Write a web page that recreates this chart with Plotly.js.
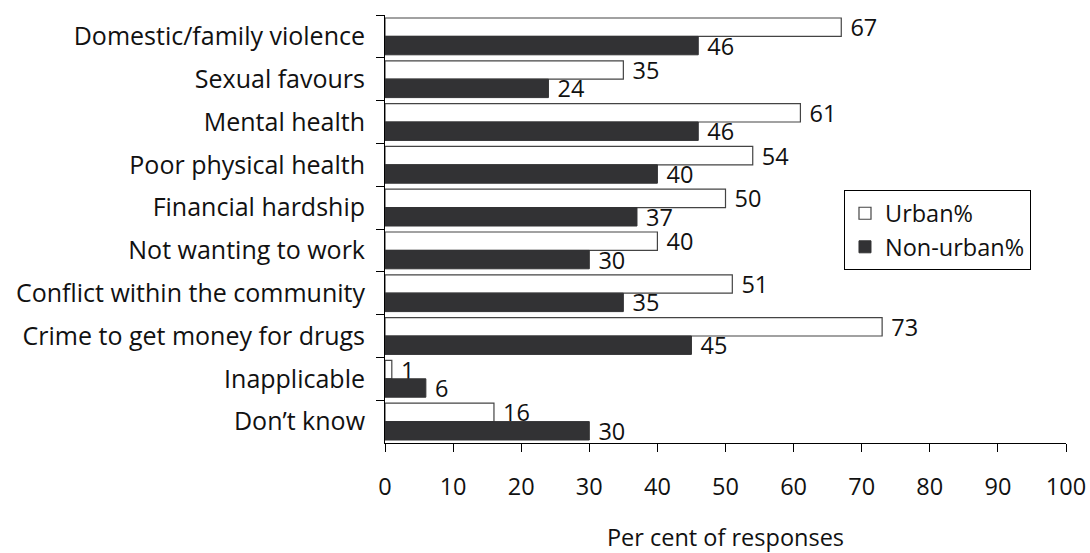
<!DOCTYPE html>
<html>
<head>
<meta charset="utf-8">
<script src="https://cdn.plot.ly/plotly-3.0.1.min.js"></script>
<style>html,body{margin:0;padding:0;background:#fff;}#chart{width:1090px;height:553px;}</style>
</head>
<body>
<div id="chart"></div>
<script>
const categories = [
  "Domestic/family violence",
  "Sexual favours",
  "Mental health",
  "Poor physical health",
  "Financial hardship",
  "Not wanting to work",
  "Conflict within the community",
  "Crime to get money for drugs",
  "Inapplicable",
  "Don\u2019t know"
];
const urban = [67, 35, 61, 54, 50, 40, 51, 73, 1, 16];
const nonUrban = [46, 24, 46, 40, 37, 30, 35, 45, 6, 30];
const xTicks = [0, 10, 20, 30, 40, 50, 60, 70, 80, 90, 100];

const FONT = "'Open Sans', Lato, sans-serif";
const FS = 23.5;
const FSY = 25;

const traces = [
  {
    type: "bar", orientation: "h", name: "Urban%",
    y: categories, x: urban,
    texttemplate: " %{x}", textposition: "outside",
    textfont: {family: FONT, size: FS, color: "#111"},
    constraintext: "none", cliponaxis: false,
    marker: {color: "#ffffff", line: {color: "#444", width: 1.2}},
    hoverinfo: "x+y"
  },
  {
    type: "bar", orientation: "h", name: "Non-urban%",
    y: categories, x: nonUrban,
    texttemplate: " %{x}", textposition: "outside",
    textfont: {family: FONT, size: FS, color: "#111"},
    constraintext: "none", cliponaxis: false,
    marker: {color: "#323234", line: {color: "#323234", width: 1}},
    hoverinfo: "x+y"
  }
];

const layout = {
  width: 1090, height: 553,
  margin: {l: 385, r: 24, t: 15, b: 110},
  paper_bgcolor: "#fff", plot_bgcolor: "#fff",
  font: {family: FONT, size: FS, color: "#111"},
  barmode: "group",
  bargap: 0.14, bargroupgap: 0,
  showlegend: true,
  legend: {
    x: 0.674, y: 0.59, xanchor: "left", yanchor: "top",
    bordercolor: "#000", borderwidth: 1, bgcolor: "#fff",
    font: {family: FONT, size: FS, color: "#111"},
    traceorder: "normal", tracegroupgap: 0
  },
  xaxis: {
    range: [0, 100], tickvals: xTicks, ticktext: xTicks.map(String),
    showgrid: false, zeroline: false, showline: true, linecolor: "#000", linewidth: 1,
    ticks: "outside", ticklen: 8, tickcolor: "#000",
    ticklabelstandoff: 15,
    tickfont: {family: FONT, size: FS, color: "#111"},
    title: {text: "Per cent of responses", font: {family: FONT, size: FS, color: "#111"}, standoff: 30},
    fixedrange: true
  },
  yaxis: {
    type: "category", autorange: "reversed",
    showgrid: false, zeroline: false, showline: true, linecolor: "#000", linewidth: 1,
    ticks: "outside", ticklen: 8, tickcolor: "#000", tickson: "boundaries",
    ticklabelstandoff: 14,
    tickfont: {family: FONT, size: FSY, color: "#111"},
    fixedrange: true
  }
};

Plotly.newPlot("chart", traces, layout, {displayModeBar: false, staticPlot: true});
</script>
</body>
</html>
